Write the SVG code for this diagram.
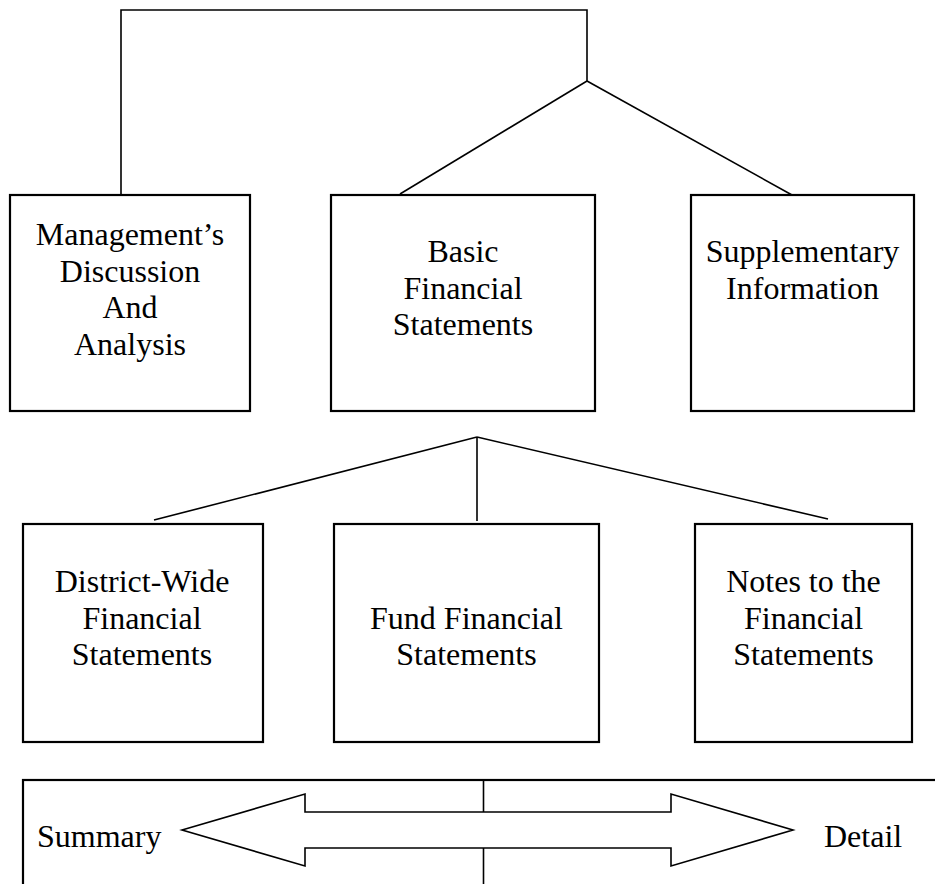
<svg xmlns="http://www.w3.org/2000/svg" width="935" height="884" viewBox="0 0 935 884">
<style>
  .box { fill: #ffffff; stroke: #000000; stroke-width: 2.2; }
  .conn { fill: none; stroke: #000000; stroke-width: 1.6; }
  .arrow { fill: #ffffff; stroke: #000000; stroke-width: 1.6; stroke-linejoin: miter; }
  text { font-size: 32px; fill: #000000; }
  .lbl { text-anchor: middle; }
</style>
<rect x="0" y="0" width="935" height="884" fill="#ffffff"/>

<g id="connectors">
  <polyline class="conn" points="121,195 121,10 587,10 587,81"/>
  <line class="conn" x1="587" y1="81" x2="400" y2="194"/>
  <line class="conn" x1="587" y1="81" x2="792" y2="195"/>
  <line class="conn" x1="477" y1="437" x2="477" y2="521"/>
  <line class="conn" x1="477" y1="437" x2="154" y2="520"/>
  <line class="conn" x1="477" y1="437" x2="828" y2="519"/>
</g>

<g font-family="Liberation Serif, Times New Roman, Times, DejaVu Serif, serif">
<g id="mda">
  <rect class="box" x="10" y="195" width="240" height="216"/>
  <text class="lbl" x="130" y="245">Management’s</text>
  <text class="lbl" x="130" y="281.7">Discussion</text>
  <text class="lbl" x="130" y="318.3">And</text>
  <text class="lbl" x="130" y="355">Analysis</text>
</g>

<g id="basic">
  <rect class="box" x="331" y="195" width="264" height="216"/>
  <text class="lbl" x="463" y="262">Basic</text>
  <text class="lbl" x="463" y="298.5">Financial</text>
  <text class="lbl" x="463" y="335">Statements</text>
</g>

<g id="supplementary">
  <rect class="box" x="691" y="195" width="223" height="216"/>
  <text class="lbl" x="802.5" y="262">Supplementary</text>
  <text class="lbl" x="802.5" y="298.5">Information</text>
</g>

<g id="districtwide">
  <rect class="box" x="23" y="524" width="240" height="218"/>
  <text class="lbl" x="142" y="592">District-Wide</text>
  <text class="lbl" x="142" y="628.5">Financial</text>
  <text class="lbl" x="142" y="665">Statements</text>
</g>

<g id="fund">
  <rect class="box" x="334" y="524" width="265" height="218"/>
  <text class="lbl" x="466.5" y="628.5">Fund Financial</text>
  <text class="lbl" x="466.5" y="665">Statements</text>
</g>

<g id="notes">
  <rect class="box" x="695" y="524" width="217" height="218"/>
  <text class="lbl" x="803.5" y="592">Notes to the</text>
  <text class="lbl" x="803.5" y="628.5">Financial</text>
  <text class="lbl" x="803.5" y="665">Statements</text>
</g>

<g id="scale">
  <rect class="box" x="23" y="780" width="940" height="200"/>
  <line class="conn" x1="483.5" y1="780" x2="483.5" y2="812"/>
  <line class="conn" x1="483.5" y1="848" x2="483.5" y2="884"/>
  <polygon class="arrow" points="182,830 305,794 305,812 671,812 671,794 793,830 671,866 671,848 305,848 305,866"/>
  <text x="37" y="847">Summary</text>
  <text x="824" y="847">Detail</text>
</g>
</g>
</svg>
